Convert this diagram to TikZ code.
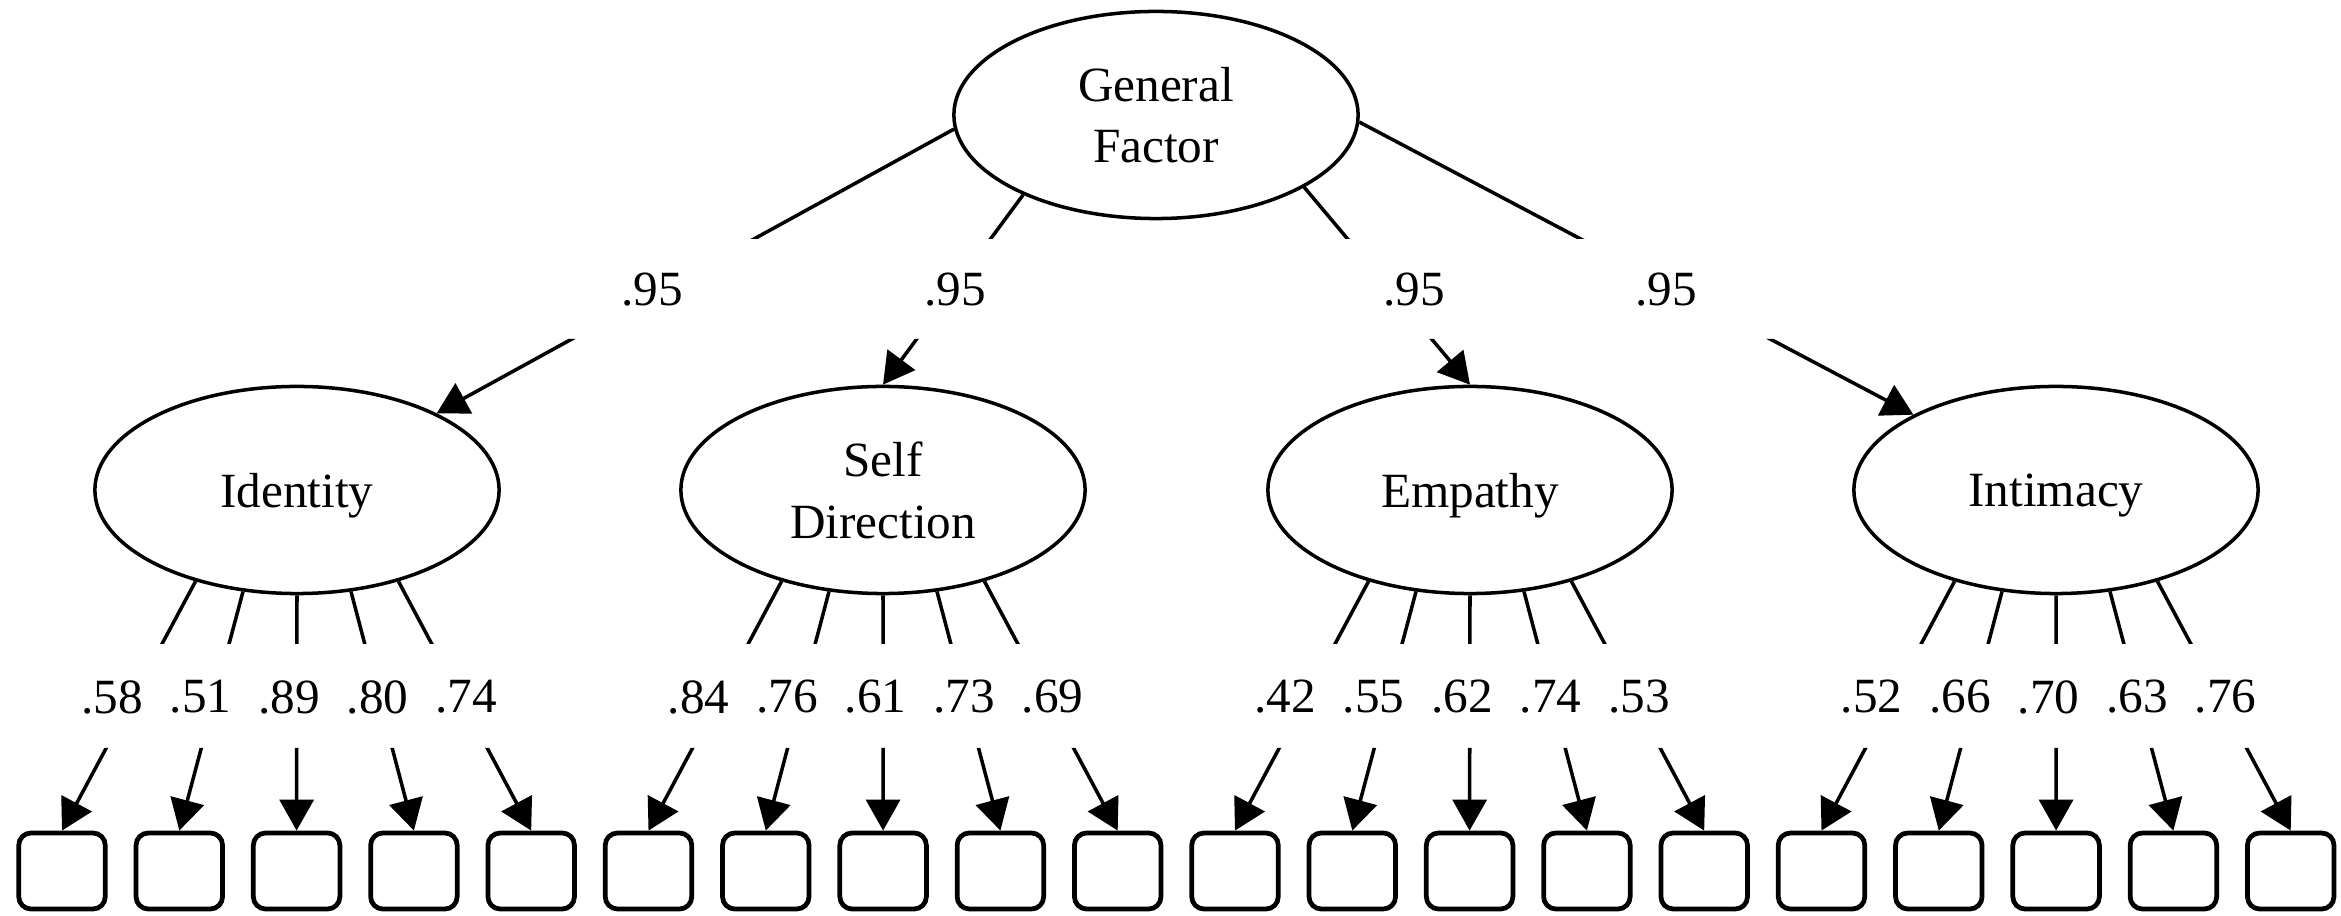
\documentclass[tikz,border=0pt]{standalone}
\usepackage{fontspec}
\setmainfont{Liberation Serif}
\usetikzlibrary{arrows.meta,shapes.geometric}

\tikzset{
  latent/.style={draw, ellipse, line width=1pt, minimum width=4.04cm, minimum height=2.07cm, inner sep=0pt, align=center, text depth=0pt},
  item/.style={draw, rectangle, rounded corners=3.5pt, line width=1.35pt, minimum width=0.865cm, minimum height=0.76cm, inner sep=0pt},
  arr/.style={line width=1pt, -{Triangle[length=3.1mm,width=3.4mm]}}
}

\begin{document}
\begin{tikzpicture}[x=0.01cm, y=-0.01cm, font=\fontsize{14}{17.5}\selectfont]
\useasboundingbox (0,0) rectangle (2341,916);
\def\pitch{117.3}

\node[latent] (gen) at (1156,115) {General\\Factor};
\node[latent] (f0) at (297,490) {Identity};
\node[latent] (f1) at (883,490) {Self\\Direction};
\node[latent] (f2) at (1470,490) {Empathy};
\node[latent] (f3) at (2056,490) {Intimacy};

\foreach \i in {0,...,19}
  \node[item] (b\i) at (62+\pitch*\i,871) {};

\node (g0) at (652,290) {.95};
\node (g1) at (955,290) {.95};
\node (g2) at (1414,290) {.95};
\node (g3) at (1666,290) {.95};

\foreach \v [count=\n from 0] in {.58,.51,.89,.80,.74,.84,.76,.61,.73,.69,.42,.55,.62,.74,.53,.52,.66,.70,.63,.76}{
  \pgfmathtruncatemacro\f{\n/5}
  \pgfmathtruncatemacro\k{\n-5*\f}
  \node (v\n) at (112+5*\pitch*\f+88.5*\k,697) {\v};
}

\begin{scope}
\clip (0,0) rectangle (2341,239) (0,339) rectangle (2341,644) (0,748) rectangle (2341,916);
\draw[arr] (gen.184) -- (f0);
\draw[arr] (gen.211) -- (f1.north);
\draw[arr] (gen.334) -- (f2.north);
\draw[arr] (gen.358) -- (f3);
\foreach \f in {0,...,3}
  \foreach \k/\a in {0/222,1/242,2/270,3/298,4/318}{
    \pgfmathtruncatemacro\b{5*\f+\k}
    \draw[arr] (f\f.\a) -- (b\b.north);
  }
\end{scope}
\end{tikzpicture}
\end{document}
